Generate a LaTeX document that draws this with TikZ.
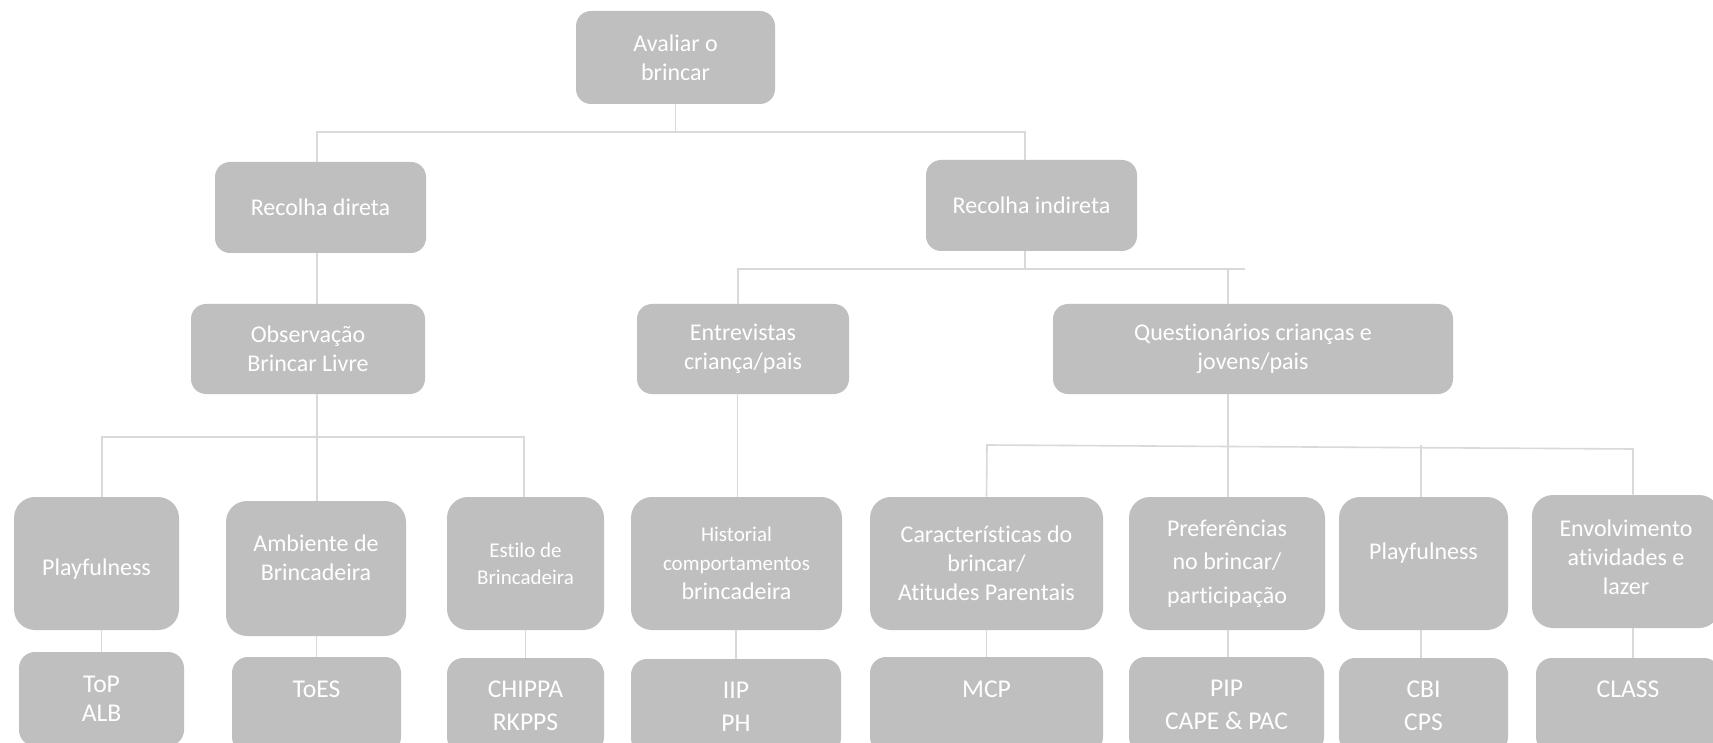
\documentclass[tikz,border=0pt]{standalone}
\usepackage{fontspec}
\setmainfont{Carlito}[Ligatures=NoCommon]
\definecolor{boxgray}{HTML}{BFBFBF}
\definecolor{linegray}{HTML}{D9D9D9}
\newcommand{\lowpad}[1]{\rule[-#1]{0pt}{#1}}
\tikzset{
  bx/.style={rectangle, rounded corners=10.5pt, fill=boxgray, text=white, inner sep=0pt, align=center, font=\fontsize{12}{14.5}\selectfont},
  bxs/.style={bx, rounded corners=7.5pt},
  bxb/.style={bx, rounded corners=8pt, font=\fontsize{12.8}{16.3}\selectfont},
  sz/.style 2 args={minimum width=#1*0.5pt, minimum height=#2*0.5pt},
  conn/.style={draw=linegray, line width=0.8pt},
}
\begin{document}
\begin{tikzpicture}[x=0.5pt,y=-0.5pt]
\useasboundingbox (0,0) rectangle (1713,743);
\clip (0,0) rectangle (1713,743);
\fill[white] (0,0) rectangle (1713,743);
% level 0-2
\node[bxs, sz={199}{93}] (root) at (675.5,57.5) {Avaliar o\\brincar};
\node[bxs, sz={211}{91}] (rd) at (320.5,207.5) {Recolha direta};
\node[bxs, sz={211}{91}] (ri) at (1031.5,205.5) {Recolha indireta};
\node[bxs, sz={234}{90}] (obs) at (308,349) {Observação\\Brincar Livre};
\node[bxs, sz={212}{90}] (ent) at (743,349) {Entrevistas\\criança/pais};
\node[bxs, sz={400}{90}] (que) at (1253,349) {Questionários crianças e\\jovens/pais};
% level 3
\node[bx, sz={165}{133}] (play1) at (96.5,563.5) {\rule{0pt}{13.5pt}Playfulness};
\node[bx, sz={180}{135}] (amb) at (316,568.5) {Ambiente de\\Brincadeira\lowpad{11pt}};
\node[bx, sz={157}{133}, font=\fontsize{10.5}{13.5}\selectfont] (est) at (525.5,563.5) {Estilo de\\Brincadeira};
\node[bx, sz={211}{133}] (his) at (736.5,563.5) {\fontsize{10.5}{14}\selectfont Historial\\\fontsize{10.5}{14}\selectfont comportamentos\\\fontsize{12}{14}\selectfont brincadeira};
\node[bx, sz={233}{133}, font=\fontsize{12}{14.6}\selectfont] (car) at (986.5,563.5) {Características do\\brincar/\\Atitudes Parentais};
\node[bx, sz={196}{133}, font=\fontsize{12}{16.8}\selectfont] (pref) at (1227,563.5) {Preferências\\no brincar/\\participação};
\node[bx, sz={169}{133}] (play2) at (1423.5,563.5) {Playfulness\lowpad{12pt}};
\node[bx, sz={188}{133}] (env) at (1626,561.5) {Envolvimento\\atividades e\\lazer\lowpad{4pt}};
% level 4
\node[bxb, sz={165}{94}, font=\fontsize{12.8}{14.3}\selectfont] (topb) at (101.5,699) {ToP\\ALB};
\node[bxb, sz={169}{96}] (toes) at (316.5,705) {ToES\lowpad{16pt}};
\node[bxb, sz={157}{95}] (chip) at (525.5,705.5) {CHIPPA\\RKPPS};
\node[bxb, sz={210}{95}] (iip) at (736,706.5) {IIP\\PH};
\node[bxb, sz={233}{96}] (mcp) at (986.5,705) {MCP\lowpad{16pt}};
\node[bxb, sz={195}{96}] (pip) at (1226.5,705) {PIP\\CAPE \& PAC};
\node[bxb, sz={169}{95}] (cbi) at (1423.5,705.5) {CBI\\CPS};
\node[bxb, sz={184}{95}] (class) at (1628,705.5) {CLASS\lowpad{16pt}};
% connectors
\coordinate (j1) at (675.5,132);
\draw[conn] (root.south) -- (j1);
\draw[conn] (j1) -| ([xshift=-1.75pt]rd.north);
\draw[conn] (j1) -| ([xshift=-3.25pt]ri.north);
\draw[conn] ([xshift=-1.75pt]rd.south) -- ([xshift=-1.75pt]rd.south |- obs.north);
\coordinate (j2) at (1025,269);
\coordinate (j2end) at (1245,269);
\draw[conn] ([xshift=-3.25pt]ri.south) -- (j2);
\draw[conn] ([xshift=-2.5pt]ent.north) |- (j2end);
\draw[conn] ([xshift=-12.5pt]que.north) -- ([xshift=-12.5pt]que.north |- j2);
\coordinate (j3) at (317,437);
\draw[conn] ([xshift=2.75pt]play1.north) |- (j3) -| ([xshift=-0.75pt]est.north);
\draw[conn] (j3 |- obs.south) -- (j3 |- amb.north);
\draw[conn] ([xshift=-2.75pt]ent.south) -- ([xshift=-2.75pt]ent.south |- his.north);
\coordinate (q1) at (987,445);
\coordinate (q2) at (1633,449);
\draw[conn] (car.north) -- (q1) -- (q2) -- (q2 |- env.north);
\draw[conn] ([xshift=0.5pt]pref.north) -- ([xshift=0.5pt]pref.north |- que.south);
\draw[conn] ([xshift=-1.25pt]play2.north) -- ([xshift=-1.25pt]play2.north |- q1);
\draw[conn] (topb.north |- play1.south) -- (topb.north);
\draw[conn] (toes.north |- amb.south) -- (toes.north);
\draw[conn] (chip.north |- est.south) -- (chip.north);
\draw[conn] (iip.north |- his.south) -- (iip.north);
\draw[conn] (mcp.north |- car.south) -- (mcp.north);
\draw[conn] ([xshift=0.75pt]pip.north |- pref.south) -- ([xshift=0.75pt]pip.north);
\draw[conn] ([xshift=-1.25pt]cbi.north |- play2.south) -- ([xshift=-1.25pt]cbi.north);
\draw[conn] ([xshift=2.5pt]class.north |- env.south) -- ([xshift=2.5pt]class.north);
\end{tikzpicture}
\end{document}
